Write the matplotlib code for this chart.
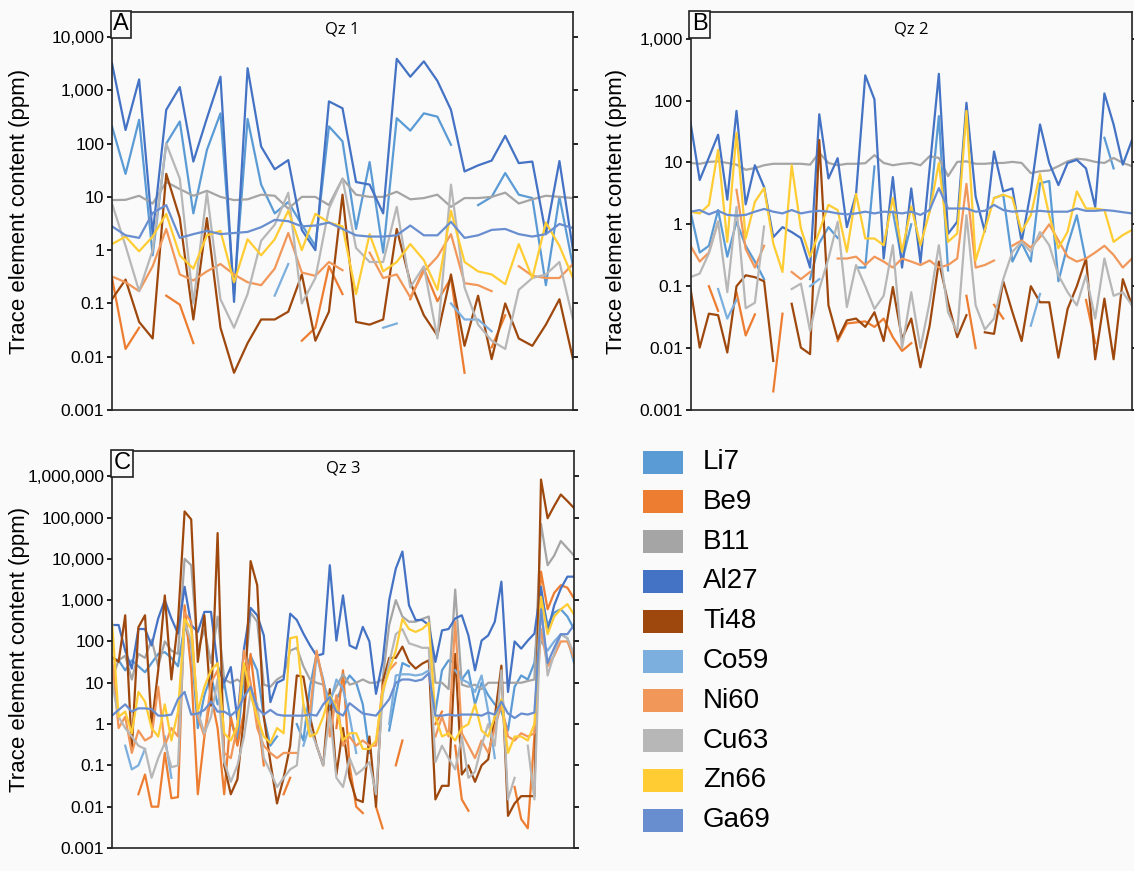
import numpy as np
import matplotlib
matplotlib.use("Agg")
import matplotlib.pyplot as plt
from matplotlib.patches import Rectangle
from matplotlib.ticker import FixedLocator, FuncFormatter, NullLocator

nan = np.nan

# element names and legend colours
elements = ["Li7", "Be9", "B11", "Al27", "Ti48", "Co59", "Ni60", "Cu63", "Zn66", "Ga69"]
colors = ["#5B9BD5", "#ED7D31", "#A5A5A5", "#4472C4", "#9E480E",
          "#7CAFDD", "#F1975A", "#B7B7B7", "#FFCD33", "#698ED0"]

# ---- Qz 1 (35 spots) ----
li7_a = [210, 27, 280, 0.8, 100, 260, 4.9, 76, 370, 0.15, 290, 17, 4.9, 8, 3, 1.2, 210, 110, 2.5, 45,
         0.9, 300, 175, 370, 320, 95, nan, 7, 10, 28, 11, 9.5, 0.22, 10, 0.5]
be9_a = [0.3, 0.014, 0.035, nan, 0.14, 0.095, 0.018, nan, nan, nan, nan, nan, nan, nan, 0.02, 0.035, 0.5, 0.15, nan, nan,
         nan, nan, 0.12, 0.45, 0.11, 0.3, 0.005, nan, 0.015, 0.06, nan, nan, nan, nan, nan]
b11_a = [8.7, 8.8, 10.5, 7.5, 19, 14, 10.5, 13, 10, 8.7, 9, 11, 10.5, 6, 10, 10, 7, 22, 11, 10,
         10, 12.5, 9, 9.5, 11, 6.5, 9.5, 9.5, 10, 12, 7.5, 9, 10.5, 10, 9.5]
al27_a = [3200, 180, 1600, 2, 430, 1150, 46, 300, 1800, 0.107, 2600, 88, 33, 49, 2.4, 1.0, 620, 460, 19, 17,
          4.9, 3900, 1800, 3500, 1500, 430, 30, 39, 48, 140, 43, 46, 2, 47, 1]
ti48_a = [0.12, 0.28, 0.045, 0.022, 27, 4, 0.05, 4, 0.035, 0.005, 0.018, 0.05, 0.05, 0.07, 0.35, 0.02, 0.07, 11, 0.045, 0.04,
          0.05, 2.5, 0.25, 0.06, 0.025, 0.35, 0.016, 0.14, 0.009, 0.1, 0.022, 0.016, 0.04, 0.12, 0.009]
co59_a = [nan, nan, nan, nan, nan, nan, nan, nan, nan, nan, nan, nan, 0.14, 0.55, nan, nan, nan, nan, nan, nan,
          0.035, 0.042, nan, nan, nan, 0.1, 0.05, 0.05, 0.03, nan, nan, nan, nan, nan, nan]
ni60_a = [0.32, 0.25, 0.17, 0.5, 2.5, 0.35, 0.27, 0.4, 0.55, 0.35, 0.25, 0.22, 0.45, 2.1, 0.38, 0.33, 0.6, 0.42, nan, 0.9,
          0.3, 0.35, 0.13, 0.4, 0.75, 2.0, 0.24, 0.22, 0.17, nan, 0.5, 0.33, 0.3, 0.3, 0.55]
cu63_a = [7.5, 1.2, 0.17, 1.0, 100, 22, 0.1, 12, 0.12, 0.035, 0.15, 1.5, 3, 12, 0.1, 0.3, 6, 22, 1.1, 0.6,
          0.6, 6.5, 0.2, 0.5, 0.022, 17, 0.2, 0.04, 0.02, 0.014, 0.18, 0.3, 0.35, 0.6, 0.05]
zn66_a = [1.3, 1.8, 0.95, 1.8, 4.8, 0.8, 0.45, 1.9, 2.3, 0.25, 1.6, 0.8, 1.6, 5.5, 1.0, 4.8, 3.3, 2.8, 0.15, 2.0,
          0.4, 0.6, 1.3, 0.65, 0.18, 5.5, 0.6, 0.4, 0.35, 0.23, 1.3, 0.3, 3.3, 1.2, 0.3]
ga69_a = [2.8, 1.9, 1.7, 5, 7, 1.7, 2.0, 2.3, 2.0, 2.1, 2.2, 2.7, 3.7, 3.5, 2.8, 2.9, 3.3, 2.5, 1.9, 1.8,
          1.8, 1.9, 2.9, 1.9, 1.9, 3.4, 1.7, 1.9, 2.4, 2.5, 2.0, 1.8, 2.0, 3.1, 2.6]

# ---- Qz 2 (49 spots) ----
li7_b = [1.6, 0.35, 0.45, 1.7, 0.3, 1.1, 0.45, 0.25, 0.13, nan,
         nan, nan, nan, 0.13, 0.5, 0.9, 0.6, nan, 0.2, 0.2,
         8.6, nan, 1.6, 0.25, 1.0, nan, 1.6, 56, 0.18, nan,
         nan, nan, nan, 2.65, 3.0, 0.25, 0.5, 0.25, 4.6, 5.0,
         0.12, 0.46, 1.4, 0.25, nan, 25, 8, nan, nan]
be9_b = [nan, nan, 0.1, 0.04, nan, 0.08, 0.016, 0.035, nan, 0.002,
         0.036, nan, nan, nan, nan, nan, 0.013, 0.025, 0.026, 0.027,
         0.022, 0.03, 0.015, 0.009, 0.012, nan, nan, nan, nan, nan,
         0.07, 0.01, nan, 0.05, 0.03, nan, nan, nan, nan, nan,
         nan, nan, nan, 0.06, 0.012, nan, nan, nan, nan]
b11_b = [9.8, 9.5, 10.2, 10.4, 9.8, 9.2, 7.6, 8.1, 9.0, 9.5,
         9.5, 9.5, 9.5, 9.2, 14.3, 9.8, 9.0, 9.5, 9.5, 9.7,
         13.1, 9.8, 9.0, 9.5, 9.8, 9.0, 12.6, 11.8, 6.0, 10.2,
         10.4, 9.5, 9.5, 9.8, 9.8, 10.2, 9.8, 6.7, 7.2, 7.4,
         8.7, 10.4, 11.5, 11.1, 10.2, 9.8, 11.8, 9.8, 8.7]
al27_b = [44, 5.2, 12, 28, 2.5, 68, 2.1, 9, 4, 0.62,
          0.9, 0.75, 0.6, 0.2, 60, 5.5, 11.7, 0.9, 3.1, 255,
          104, 0.28, 5.8, 0.2, 3.8, 0.24, 8, 270, 0.7, 1.1,
          92, 2.8, 0.76, 15, 3.4, 3.8, 0.52, 3.4, 41, 9.8,
          4.3, 9.8, 11, 8, 1.9, 130, 41, 9.2, 23]
ti48_b = [0.092, 0.0102, 0.036, 0.034, 0.0085, 0.1, 0.15, 0.14, 0.12, 0.0062,
          nan, 0.052, 0.0102, 0.008, 23, 0.049, 0.014, 0.028, 0.03, 0.022,
          0.038, 0.013, 0.097, 0.014, 0.03, 0.0049, 0.023, 0.25, 0.055, 0.015,
          0.034, nan, 0.018, 0.017, 0.12, 0.038, 0.013, 0.1, 0.055, 0.055,
          0.007, 0.043, 0.1, 0.28, 0.0066, 0.063, 0.0066, 0.13, 0.049]
co59_b = [nan, nan, nan, 0.09, 0.03, 0.06, nan, nan, nan, nan,
          nan, nan, nan, 0.1, 0.13, nan, nan, nan, nan, nan,
          nan, nan, nan, nan, nan, nan, nan, nan, nan, nan,
          nan, nan, nan, nan, nan, nan, nan, 0.023, 0.075, nan,
          nan, nan, nan, nan, nan, nan, nan, nan, nan]
ni60_b = [0.45, 0.25, 0.35, 1.1, nan, 3.6, 0.4, 0.2, 0.45, nan,
          nan, 0.17, 0.13, 0.17, nan, nan, 0.28, 0.28, 0.3, 0.22,
          0.3, 0.25, 0.2, 0.28, 0.25, 0.22, 0.26, 0.2, 0.22, 0.28,
          4.5, 0.2, 0.22, 0.26, nan, 0.45, 0.55, 0.42, 0.62, 1.0,
          0.55, 0.3, 0.25, 0.28, 0.35, 0.45, 0.32, 0.2, 0.28]
cu63_b = [0.14, 0.16, 0.34, 1.1, 0.08, 1.9, 0.044, 0.054, 0.92, nan,
          nan, 0.09, 0.11, 0.019, 0.09, 0.28, 1.1, 0.046, 0.22, 0.1,
          0.043, 0.07, 0.46, 0.01, 0.08, 0.01, 0.055, 0.46, 0.038, 0.018,
          1.4, 0.049, 0.02, 0.03, 0.13, 0.36, 0.52, 0.36, 0.75, 0.46,
          0.15, 0.08, 0.049, 0.15, 0.03, 0.28, 0.07, 0.08, 0.049]
zn66_b = [1.6, 1.5, 2.06, 16, 0.52, 30, 0.59, 2.3, 3.85, 0.49,
          0.17, 9, 0.86, 0.3, 0.76, 2.06, 1.7, 0.36, 3.1, 0.59,
          0.59, 0.46, 2.65, 0.36, 1.94, 0.46, 1.6, 9.8, 0.52, 0.71,
          68, 0.26, 0.81, 2.65, 3.0, 2.65, 0.76, 1.4, 6.5, 1.4,
          0.41, 0.76, 3.4, 1.8, 1.8, 1.7, 0.52, 0.67, 0.81]
ga69_b = [1.6, 1.7, 1.45, 1.65, 1.42, 1.38, 1.42, 1.6, 1.77, 1.6,
          1.5, 1.7, 1.5, 1.6, 1.65, 1.6, 1.5, 1.45, 1.5, 1.6,
          1.5, 1.6, 1.57, 1.5, 1.6, 1.42, 1.7, 3.85, 1.8, 1.8,
          1.8, 1.6, 1.65, 2.06, 1.7, 1.6, 1.65, 1.6, 1.65, 1.6,
          1.6, 1.6, 1.8, 1.65, 1.65, 1.7, 1.65, 1.57, 1.5]

# ---- Qz 3 (71 spots) ----
li7_c = [40, 35, 20, 35, 25, 18, 30, 50, 55, 40,
         25, 250, 80, 0.8, 5, 15, 3, 10, 1.2, 0.4,
         15, 45, 20, 1.5, 0.3, 0.5, nan, nan, 1, 0.4,
         8, 50, 12, 2, 4, 8, 15, 10, 3, 0.2,
         nan, nan, 0.7, 5, 30, 25, nan, nan, nan, 2,
         20, 35, 30, 12, 20, 3, 10, 5, 3, 2,
         0.7, 8, 15, 12, 30, 1500, 250, 500, 600, 400,
         200]
be9_c = [nan, nan, nan, nan, 0.02, 0.06, 0.01, 0.01, 0.2, 0.016,
         0.017, 750, 20, 0.02, 0.5, 5, 0.8, 0.02, 1.5, 0.3,
         2, 50, 2, 0.1, nan, nan, 0.02, 0.05, nan, nan,
         nan, nan, nan, nan, 0.8, 20, 0.1, 0.01, 0.007, nan,
         0.01, 0.003, nan, 0.1, 0.4, nan, nan, nan, nan, 1,
         2, nan, 0.3, 0.015, 0.008, nan, nan, nan, nan, nan,
         nan, 0.03, 0.005, 0.003, 0.5, 4900, 600, 1500, 2300, 2000,
         1100]
b11_c = [12, 35, 45, 12, 50, 40, 110, 25, 100, 60,
         50, 10000, 7000, 60, 200, 30, 400, 12, 10, 12,
         9, 500, 300, 9, 8, 12, 15, 60, 70, 25,
         12, 10, 9, 4, 8, 16, 9, 10, 12, 10,
         10, 12, 250, 1000, 400, 300, 300, 350, 400, 10,
         10, 7, 1800, 9, 8, 9, 7, 10, 10, 10,
         10, 10, 10, 11, 12, 70000, 7000, 12000, 27000, 18000,
         12000]
al27_c = [250, 250, 60, 22, 200, 200, 80, 360, 1000, 360,
          155, 2100, 250, 170, 520, 520, 26, 10, 24, 1.3,
          67, 650, 430, 140, 3.4, 10, 12, 470, 330, 155,
          80, 45, 50, 7000, 105, 1300, 80, 67, 225, 100,
          5.4, 32, 1000, 5800, 15000, 750, 330, 330, 250, 32,
          185, 200, 360, 430, 140, 20, 105, 140, 300, 2800,
          6, 100, 67, 105, 155, 2100, 170, 750, 1900, 3700,
          3700]
ti48_c = [42, 32, 430, 0.25, 220, 430, 0.9, 20, 1300, 12,
          300, 140000, 90000, 32, 430, 2.8, 42000, 0.1, 0.02, 0.046,
          1.5, 8800, 2300, 1.5, 0.12, 0.012, 0.05, 0.3, 15, 14,
          1.5, 0.3, 0.1, 7, 0.06, 0.8, 0.05, 0.015, 0.013, 0.5,
          0.01, 10, 40, 40, 75, 32, 22, 29, 35, 0.015,
          0.032, 0.032, 50, 0.06, 0.1, 0.04, 0.1, 0.14, 1.5, 26,
          0.006, 0.012, 0.018, 0.018, 0.018, 830000, 96000, 190000, 360000, 250000,
          170000]
co59_c = [nan, nan, 0.3, 0.08, 0.1, 0.25, nan, nan, 0.5, 0.05,
          nan, nan, nan, nan, nan, nan, nan, nan, nan, nan,
          nan, nan, nan, nan, nan, nan, nan, nan, nan, 0.3,
          1, 50, 10, 3, 12, 7, 1.5, 0.2, nan, nan,
          nan, nan, 1, 15, 16, 16, 15, 16, 20, nan,
          nan, nan, 20, 12, 10, 6, 15, 2, 0.15, nan,
          nan, nan, nan, nan, nan, 100, 60, 100, 150, 120,
          30]
ni60_c = [40, 0.8, 1.5, 0.2, 0.7, 0.4, 0.5, 8, 0.3, 0.8,
          0.5, 500, 300, 1.5, 0.5, 10, 20, 0.2, 0.15, 0.9,
          60, 10, 0.8, 0.3, 0.2, 0.15, 0.2, 0.2, 0.2, nan,
          2, 60, 10, 0.5, 5, 0.3, 0.5, 0.3, 0.4, 0.3,
          0.3, 8, 20, 30, nan, nan, nan, nan, nan, 0.5,
          1.5, 0.5, 300, 0.6, 0.3, 0.15, 0.4, 0.2, 0.8, 3,
          0.5, 0.4, 0.6, 0.5, 0.6, 200, 25, 45, 100, 100,
          40]
cu63_c = [10, 1.5, 0.8, 0.5, 0.3, 0.25, 0.05, 0.15, 0.35, 0.09,
          0.1, 300, 100, 2, 0.6, 1.5, 12, 0.12, 0.04, 0.1,
          0.5, 6, 3, 0.15, 0.07, 0.03, 0.05, 0.08, 0.1, 3,
          0.8, 0.3, 0.1, 2, 0.05, 0.03, 0.15, 0.06, 0.08, 0.12,
          0.02, 5, 30, 150, 200, 90, 80, 70, 70, 0.12,
          0.3, 0.15, 0.08, 0.5, 0.05, 0.07, 0.3, 1, 0.3, 20,
          0.015, 0.05, nan, 0.3, 0.015, 800, 15, 50, 150, 120,
          50]
zn66_c = [300, 1.5, 2, 0.6, 6, 3.5, 0.8, 0.5, 3, 0.4,
          2, 350, 200, 2, 8, 20, 30, 0.6, 0.4, 0.9,
          30, 5, 1.5, 0.5, 0.35, 0.8, 0.6, 120, 130, 3,
          0.5, 0.6, 1.5, 5, 2.5, 0.4, 0.6, 0.6, 0.25, 0.25,
          0.4, 6, 20, 60, 350, 200, 170, 200, 280, 1.5,
          0.5, 0.6, 0.4, 0.8, 1, 3, 0.7, 0.5, 1.5, 4,
          0.2, 0.5, 0.5, 0.4, 1, 1200, 150, 400, 600, 800,
          450]
ga69_c = [1.6, 2.2, 3.0, 2.0, 2.4, 2.4, 2.3, 1.6, 1.6, 1.7,
          4, 6, 1.7, 1.8, 2.2, 3.5, 2.0, 2.0, 1.6, 2.2,
          4.5, 8, 2.5, 1.7, 2.2, 1.7, 1.6, 1.6, 1.6, 1.6,
          1.7, 1.6, 3, 4.5, 2, 1.6, 3.2, 2.4, 1.8, 1.7,
          1.6, 2.5, 4, 10, 12, 12, 11, 12, 17, 1.6,
          1.6, 1.7, 1.6, 1.7, 1.7, 1.7, 1.6, 1.9, 1.7, 3.5,
          1.8, 1.4, 1.8, 1.7, 1.9, 600, 30, 70, 150, 150,
          250]

# y-axis tick values per panel
ticks_a = [0.001, 0.01, 0.1, 1, 10, 100, 1000, 10000]
ticks_b = [0.001, 0.01, 0.1, 1, 10, 100, 1000]
ticks_c = [0.001, 0.01, 0.1, 1, 10, 100, 1000, 10000, 100000, 1000000]

panels = [
    ("A", "Qz 1", [li7_a, be9_a, b11_a, al27_a, ti48_a, co59_a, ni60_a, cu63_a, zn66_a, ga69_a],
     ticks_a, 10 ** 4.47, [112, 12, 573, 410], -0.178),
    ("B", "Qz 2", [li7_b, be9_b, b11_b, al27_b, ti48_b, co59_b, ni60_b, cu63_b, zn66_b, ga69_b],
     ticks_b, 10 ** 3.43, [690.5, 12, 1132, 410], -0.144),
    ("C", "Qz 3", [li7_c, be9_c, b11_c, al27_c, ti48_c, co59_c, ni60_c, cu63_c, zn66_c, ga69_c],
     ticks_c, 10 ** 6.61, [112, 451, 574, 848], -0.177),
]

W, H = 1134, 871
plt.rcParams['font.family'] = ['Liberation Sans', 'DejaVu Sans']
bg = "#fafafa"
fig = plt.figure(figsize=(W / 100, H / 100), dpi=100, facecolor=bg)


def fmt(v, pos):
    if v >= 1:
        return f"{int(round(v)):,}"
    return f"{v:g}"


for letter, title, series, ticks, ytop, box, lab_x in panels:
    x0, y0, x1, y1 = box
    ax = fig.add_axes([x0 / W, 1 - y1 / H, (x1 - x0) / W, (y1 - y0) / H])
    ax.set_facecolor(bg)
    for vals, col in zip(series, colors):
        v = np.array(vals, dtype=float)
        ax.plot(np.arange(len(v)), v, color=col, lw=1.6)
    n = len(series[0])
    ax.set_xlim(0, n - 1)
    ax.set_yscale("log")
    ax.set_ylim(0.001, ytop)
    ax.yaxis.set_major_locator(FixedLocator(ticks))
    ax.yaxis.set_minor_locator(NullLocator())
    ax.yaxis.set_major_formatter(FuncFormatter(fmt))
    ax.set_xticks([])
    ax.tick_params(axis="y", direction="out", length=3.5, width=1.2, right=True,
                   labelright=False, labelsize=12.5, pad=2)
    for s in ax.spines.values():
        s.set_linewidth(1.2)
        s.set_color("#222222")
    ax.set_ylabel("Trace element content (ppm)", fontsize=16)
    ax.yaxis.set_label_coords(lab_x, 0.5)
    ax.text(0.5, 0.957, title, transform=ax.transAxes, ha="center", va="center",
            fontsize=12, family="Open Sans")
    ax.text(0.003, 0.997, letter, transform=ax.transAxes, ha="left", va="top", fontsize=17,
            bbox=dict(boxstyle="square,pad=0.1", fc=bg, ec="#222222", lw=1.2))

# legend drawn as swatches + labels
for k, (name, col) in enumerate(zip(elements, colors)):
    yc = 462 + 39.8 * k
    fig.patches.append(Rectangle((643 / W, 1 - (yc + 11.5) / H), 40 / W, 23 / H,
                                 transform=fig.transFigure, facecolor=col, edgecolor="none"))
    fig.text(703 / W, 1 - yc / H, name, fontsize=20, va="center", ha="left")

fig.savefig("out.png", dpi=100, facecolor=bg)
